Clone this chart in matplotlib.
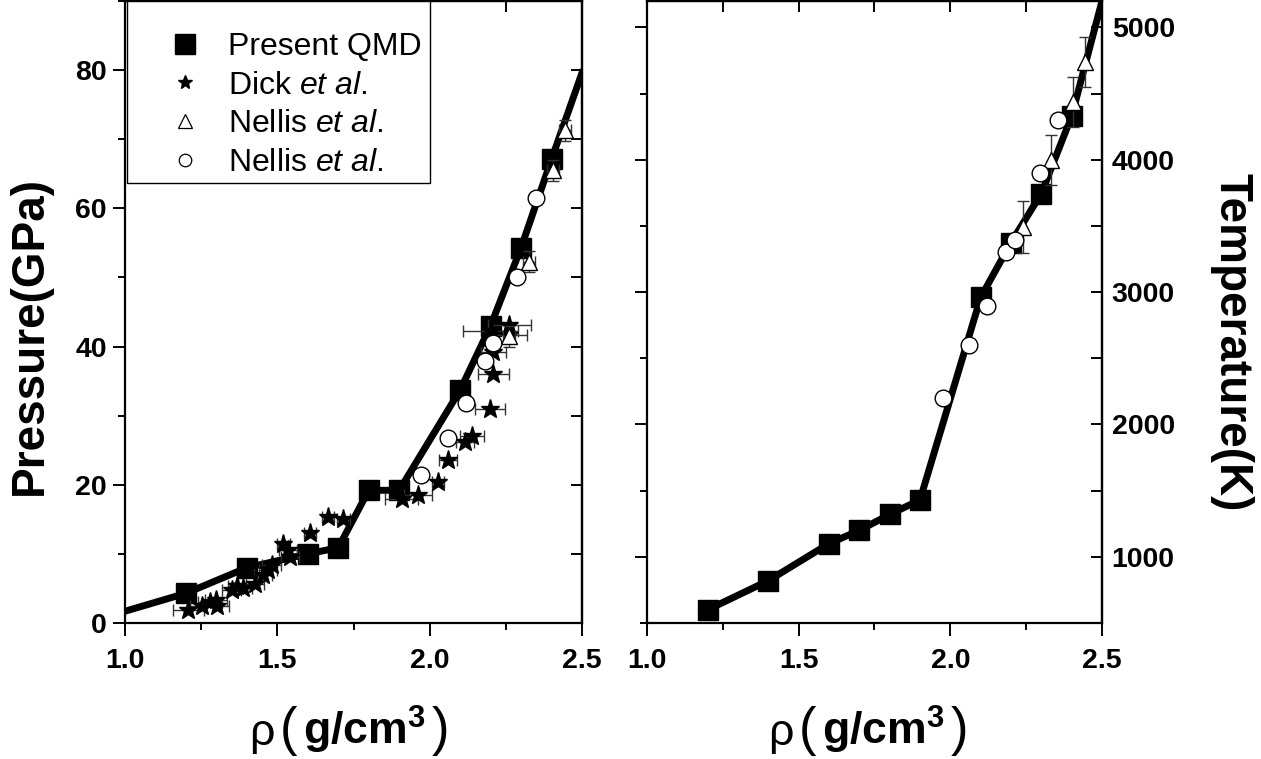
import matplotlib
matplotlib.use("Agg")
import matplotlib.pyplot as plt
from matplotlib.lines import Line2D
from matplotlib.patches import Rectangle
from matplotlib.offsetbox import TextArea, HPacker, AnchoredOffsetbox
from matplotlib.ticker import MultipleLocator, FormatStrFormatter

plt.rcParams['font.family'] = ['Liberation Sans', 'DejaVu Sans']
plt.rcParams['font.weight'] = 'bold'
plt.rcParams['mathtext.fontset'] = 'custom'
plt.rcParams['mathtext.rm'] = 'Liberation Sans:normal'
plt.rcParams['mathtext.it'] = 'Liberation Sans:italic:normal'
plt.rcParams['mathtext.bf'] = 'Liberation Sans:bold'

# ---------------- data: pressure panel ----------------
qmd_rho = [1.2, 1.4, 1.6, 1.7, 1.8, 1.9, 2.1, 2.2, 2.3, 2.4]
qmd_P = [4.3, 8.0, 10.0, 10.9, 19.2, 19.2, 33.7, 43.0, 54.3, 67.1]
qmd_P_line_rho = [1.0, 1.2, 1.4, 1.6, 1.7, 1.8, 1.9, 2.1, 2.2, 2.3, 2.4, 2.5]
qmd_P_line = [1.7, 4.3, 8.0, 10.0, 10.9, 19.2, 19.2, 33.7, 43.0, 54.3, 67.1, 79.6]

dick_rho = [1.208, 1.252, 1.279, 1.301, 1.299, 1.350, 1.367, 1.388, 1.427, 1.454,
            1.470, 1.481, 1.520, 1.536, 1.542, 1.607, 1.667, 1.717, 1.908, 1.961,
            2.028, 2.061, 2.116, 2.138, 2.198, 2.209, 2.209, 2.261, 2.261, 2.200]
dick_P = [1.9, 2.4, 3.1, 2.4, 3.3, 4.8, 5.3, 5.0, 5.7, 6.9,
          7.7, 8.4, 11.5, 10.6, 9.6, 13.0, 15.4, 15.1, 18.0, 18.5,
          20.4, 23.6, 26.2, 27.0, 30.9, 36.1, 39.2, 43.1, 41.7, 42.2]
dick_err = [0.05, 0.04, 0.04, 0.04, 0.035, 0.03, 0.03, 0.03, 0.03, 0.03,
            0.03, 0.03, 0.02, 0.03, 0.03, 0.02, 0.02, 0.02, 0.055, 0.046,
            0.02, 0.03, 0.03, 0.04, 0.05, 0.05, 0.04, 0.07, 0.06, 0.09]

nel_tri_rho_P = [2.261, 2.326, 2.405, 2.444]
nel_tri_P = [41.5, 52.3, 65.5, 71.3]
nel_tri_P_err = [1.5, 1.5, 1.5, 1.5]
nel_tri_rho_err = [0.02, 0.02, 0.02, 0.02]

nel_cir_rho_P = [1.972, 2.060, 2.119, 2.182, 2.208, 2.287, 2.349]
nel_cir_P = [21.4, 26.8, 31.8, 37.9, 40.5, 50.1, 61.5]

# ---------------- data: temperature panel ----------------
qmd_T = [600, 820, 1100, 1200, 1320, 1430, 2960, 3375, 3745, 4330]
qmd_T_line_rho = [1.2, 1.4, 1.6, 1.7, 1.8, 1.9, 2.1, 2.2, 2.3, 2.4, 2.5]
qmd_T_line = [600, 820, 1100, 1200, 1320, 1430, 2960, 3375, 3745, 4330, 5200]

nel_tri_rho_T = [2.239, 2.332, 2.404, 2.445]
nel_tri_T = [3493, 3996, 4436, 4738]
nel_tri_T_err = [195, 190, 190, 190]

nel_cir_rho_T = [1.975, 2.063, 2.122, 2.184, 2.214, 2.294, 2.354]
nel_cir_T = [2200, 2603, 2898, 3304, 3392, 3900, 4298]

x_ticks = [1.0, 1.5, 2.0, 2.5]
P_ticks = [0, 20, 40, 60, 80]
T_ticks = [1000, 2000, 3000, 4000, 5000]

# ---------------- figure ----------------
W, H = 1261, 759
fig = plt.figure(figsize=(W / 100, H / 100), dpi=100)
fig.patch.set_facecolor('white')

ax1 = fig.add_axes([125 / W, 136 / H, 457 / W, 622 / H])
ax2 = fig.add_axes([647 / W, 136 / H, 455 / W, 622 / H])

SQ = dict(marker='s', ms=15, mfc='k', mec='k', ls='none', zorder=4)
ERR = dict(ecolor='0.2', elinewidth=1.0, capsize=4, capthick=1.0)

# Pressure panel
ax1.plot(qmd_P_line_rho, qmd_P_line, color='k', lw=5, zorder=3)
ax1.plot(qmd_rho, qmd_P, **SQ)
ax1.errorbar(dick_rho, dick_P, xerr=dick_err, fmt='*', ms=14, mfc='k', mec='k',
             zorder=5, **ERR)
ax1.errorbar(nel_tri_rho_P, nel_tri_P, xerr=nel_tri_rho_err, yerr=nel_tri_P_err, fmt='^',
             ms=12, mfc='white', mec='k', mew=1.0, zorder=6, **ERR)
ax1.plot(nel_cir_rho_P, nel_cir_P, 'o', ms=12, mfc='white', mec='k', mew=1.0, zorder=7)

# Temperature panel
ax2.plot(qmd_T_line_rho, qmd_T_line, color='k', lw=5, zorder=3)
ax2.plot(qmd_rho, qmd_T, **SQ)
ax2.errorbar(nel_tri_rho_T, nel_tri_T, yerr=nel_tri_T_err, fmt='^', ms=12, mfc='white',
             mec='k', mew=1.0, zorder=6, **ERR)
ax2.plot(nel_cir_rho_T, nel_cir_T, 'o', ms=12, mfc='white', mec='k', mew=1.0, zorder=7)

LAB = 20.5
for ax in (ax1, ax2):
    ax.set_xlim(1.0, 2.5)
    ax.set_xticks(x_ticks)
    ax.xaxis.set_major_formatter(FormatStrFormatter('%.1f'))
    ax.xaxis.set_minor_locator(MultipleLocator(0.25))
    for s in ax.spines.values():
        s.set_linewidth(1.6)
    ax.tick_params(axis='x', which='major', direction='out', length=9, width=1.4,
                   labelsize=LAB, pad=9, top=False)
    ax.tick_params(axis='x', which='minor', direction='out', length=5, width=1.4, top=False)
    sx = ax.secondary_xaxis('top')
    sx.set_xticks([1.0, 1.25, 1.5, 1.75, 2.0, 2.25, 2.5])
    sx.tick_params(direction='in', length=8, width=1.4, labeltop=False)
    sx.spines['top'].set_linewidth(1.6)

ax1.set_ylim(0, 90)
ax1.set_yticks(P_ticks)
ax1.yaxis.set_minor_locator(MultipleLocator(10))
ax1.tick_params(axis='y', which='major', direction='out', length=9, width=1.4,
                labelsize=LAB, pad=4, right=False)
ax1.tick_params(axis='y', which='minor', direction='out', length=5, width=1.4, right=False)
sy1 = ax1.secondary_yaxis('right')
sy1.set_yticks(list(range(0, 91, 10)))
sy1.tick_params(direction='in', length=8, width=1.4, labelright=False)
sy1.spines['right'].set_linewidth(1.6)

ax2.set_ylim(500, 5200)
ax2.set_yticks(T_ticks)
ax2.yaxis.set_minor_locator(MultipleLocator(500))
ax2.tick_params(axis='y', which='major', direction='out', length=9, width=1.4,
                labelleft=False, right=False)
ax2.tick_params(axis='y', which='minor', direction='out', length=5, width=1.4, right=False)
sy2 = ax2.secondary_yaxis('right')
sy2.set_yticks(T_ticks)
sy2.yaxis.set_minor_locator(MultipleLocator(500))
sy2.tick_params(which='major', direction='in', length=8, width=1.4, labelsize=LAB, pad=7)
sy2.tick_params(which='minor', direction='in', length=8, width=1.4)
sy2.spines['right'].set_linewidth(1.6)

# Legend (frameless, with a separately drawn box)
handles = [
    Line2D([], [], marker='s', ms=15, mfc='k', mec='k', ls='none'),
    Line2D([], [], marker='*', ms=10, mfc='k', mec='k', ls='none'),
    Line2D([], [], marker='^', ms=10, mfc='white', mec='k', mew=0.9, ls='none'),
    Line2D([], [], marker='o', ms=9, mfc='white', mec='k', mew=0.9, ls='none'),
]
labels = ['Present QMD', r'Dick $\mathit{et\ al.}$', r'Nellis $\mathit{et\ al.}$',
          r'Nellis $\mathit{et\ al.}$']
leg = ax1.legend(handles, labels, loc='upper left',
                 bbox_to_anchor=(161 / W, 1 - 32 / H), bbox_transform=fig.transFigure,
                 borderaxespad=0, borderpad=0,
                 prop={'family': 'Liberation Sans', 'weight': 'normal', 'size': 23},
                 frameon=False, handlelength=1.5, handletextpad=0.6, labelspacing=0.27)
leg.set_zorder(10)
box = Rectangle((127 / W, 1 - 183 / H), (430 - 127) / W, 182 / H, transform=fig.transFigure,
                facecolor='white', edgecolor='k', lw=1.0, zorder=9, clip_on=False)
ax1.add_patch(box)

# Axis labels
fig.text(30 / W, 1 - 335 / H, 'Pressure(GPa)', rotation=90, ha='center', va='center',
         fontsize=33, fontweight='bold')
fig.text(1232 / W, 1 - 342 / H, 'Temperature(K)', rotation=270, ha='center', va='center',
         fontsize=33, fontweight='bold')


def add_xlabel(cx, cy):
    kids = [
        TextArea('ρ', textprops=dict(family='Liberation Sans', fontweight='normal', fontsize=32)),
        TextArea('(', textprops=dict(family='Liberation Sans', fontweight='normal', fontsize=38)),
        TextArea(r'$\mathbf{g/cm^{3}}$', textprops=dict(fontsize=32)),
        TextArea(')', textprops=dict(family='Liberation Sans', fontweight='normal', fontsize=38)),
    ]
    hb = HPacker(children=kids, align='baseline', pad=0, sep=4)
    ab = AnchoredOffsetbox(loc='center', child=hb, frameon=False, pad=0, borderpad=0,
                           bbox_to_anchor=(cx / W, 1 - cy / H), bbox_transform=fig.transFigure)
    fig.add_artist(ab)


add_xlabel(349, 730)
add_xlabel(868, 730)

fig.savefig('out.png', dpi=100, facecolor='white')
